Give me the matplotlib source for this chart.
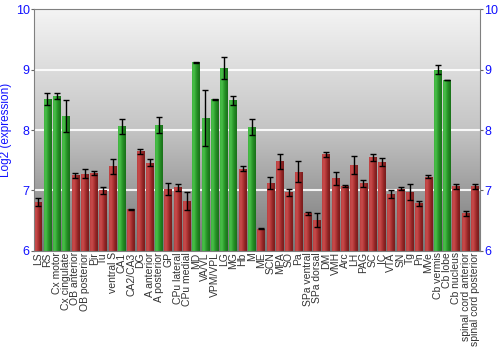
import numpy as np
import matplotlib
matplotlib.use("Agg")
import matplotlib.pyplot as plt
from matplotlib.colors import LinearSegmentedColormap

regions = [
    "LS", "RS", "Cx motor", "Cx cingulate", "OB anterior", "OB posterior", "Pir", "Tu",
    "ventral S", "CA1", "CA2/CA3", "DG", "A anterior", "A posterior", "GP", "CPu lateral",
    "CPu medial", "MD", "VA/VL", "VPM/VPL", "LG", "MG", "Hb", "M", "ME", "SCN", "MPA",
    "SO", "Pa", "SPa ventral", "SPa dorsal", "DM", "VMH", "Arc", "LH", "PAG", "SC", "IC",
    "VTA", "SN", "Tg", "Pn", "MVe", "Cb vermis", "Cb lobe", "Cb nucleus",
    "spinal cord anterior", "spinal cord posterior",
]
log2_expr = [
    6.81, 8.52, 8.56, 8.23, 7.25, 7.28, 7.29, 7.00,
    7.40, 8.06, 6.69, 7.65, 7.46, 8.08, 7.02, 7.05,
    6.82, 9.12, 8.20, 8.51, 9.03, 8.49, 7.36, 8.05, 6.37, 7.13, 7.48,
    6.97, 7.31, 6.62, 6.51, 7.60, 7.20, 7.07, 7.42, 7.12, 7.55, 7.47,
    6.94, 7.03, 6.97, 6.79, 7.23, 9.00, 8.83, 7.07,
    6.62, 7.07,
]
err = [
    0.07, 0.10, 0.05, 0.27, 0.04, 0.08, 0.03, 0.05,
    0.12, 0.12, 0.01, 0.04, 0.06, 0.13, 0.10, 0.06,
    0.15, 0.01, 0.47, 0.01, 0.18, 0.07, 0.04, 0.14, 0.01, 0.10, 0.12,
    0.06, 0.17, 0.02, 0.12, 0.04, 0.11, 0.02, 0.15, 0.06, 0.06, 0.06,
    0.07, 0.02, 0.13, 0.04, 0.03, 0.07, 0.005, 0.04,
    0.04, 0.04,
]
high = ["RS", "Cx motor", "Cx cingulate", "CA1", "A posterior", "MD", "VA/VL",
        "VPM/VPL", "LG", "MG", "M", "Cb vermis", "Cb lobe"]

red_cmap = LinearSegmentedColormap.from_list("r", ["#bc4040", "#c84c4c", "#b23636", "#8c2424", "#7a1c1c"])
green_cmap = LinearSegmentedColormap.from_list("g", ["#40b440", "#48be48", "#2e9e2e", "#208220", "#1a701a"])
bg_cmap = LinearSegmentedColormap.from_list("bg", ["#f4f4f4", "#c4c4c4", "#767676"])

fig = plt.figure(figsize=(5, 3.5), dpi=100)
ax = fig.add_axes([0.068, 0.283, 0.892, 0.691])

x = np.arange(len(regions))
ax.set_xlim(-0.45, len(regions) - 0.45)
ax.set_ylim(6, 10)

# background gradient, light at the top
ax.imshow(np.linspace(0, 1, 256).reshape(-1, 1), cmap=bg_cmap, aspect="auto",
          extent=[-0.45, len(regions) - 0.45, 6, 10], zorder=0)
for yv in [7, 8, 9]:
    ax.axhline(yv, color="white", lw=1.5, alpha=0.9, zorder=1)

bars = ax.bar(x, np.array(log2_expr) - 6, bottom=6, width=0.82, color="none",
              edgecolor="none", zorder=2)
hgrad = np.linspace(0, 1, 64).reshape(1, -1)
for b, name in zip(bars, regions):
    cmap = green_cmap if name in high else red_cmap
    x0, y0 = b.get_x(), b.get_y()
    im = ax.imshow(hgrad, cmap=cmap, aspect="auto", zorder=2,
                   extent=[x0, x0 + b.get_width(), y0, y0 + b.get_height()])
    im.set_clip_path(b)

ax.errorbar(x, log2_expr, yerr=err, fmt="none", ecolor="black", elinewidth=1,
            capsize=2, capthick=1, zorder=3)

ax.set_xticks(x)
ax.set_xticklabels(regions, rotation=90, fontsize=7.5, color="#333333",
                   family="Liberation Sans")
ax.tick_params(axis="x", length=0, pad=1)
ax.set_yticks([6, 7, 8, 9, 10])
ax.tick_params(axis="y", left=True, right=True, labelleft=True, labelright=True,
               labelsize=9, labelcolor="#1010ff", color="#666666", length=2, pad=1)
for lab in ax.get_yticklabels(which="both"):
    lab.set_family("Liberation Sans")
ax.set_ylabel("Log2 (expression)", color="#1010ff", fontsize=8.5,
              family="Liberation Sans", labelpad=3)
for s in ax.spines.values():
    s.set_color("#808080")

fig.savefig("out.png", dpi=100)
